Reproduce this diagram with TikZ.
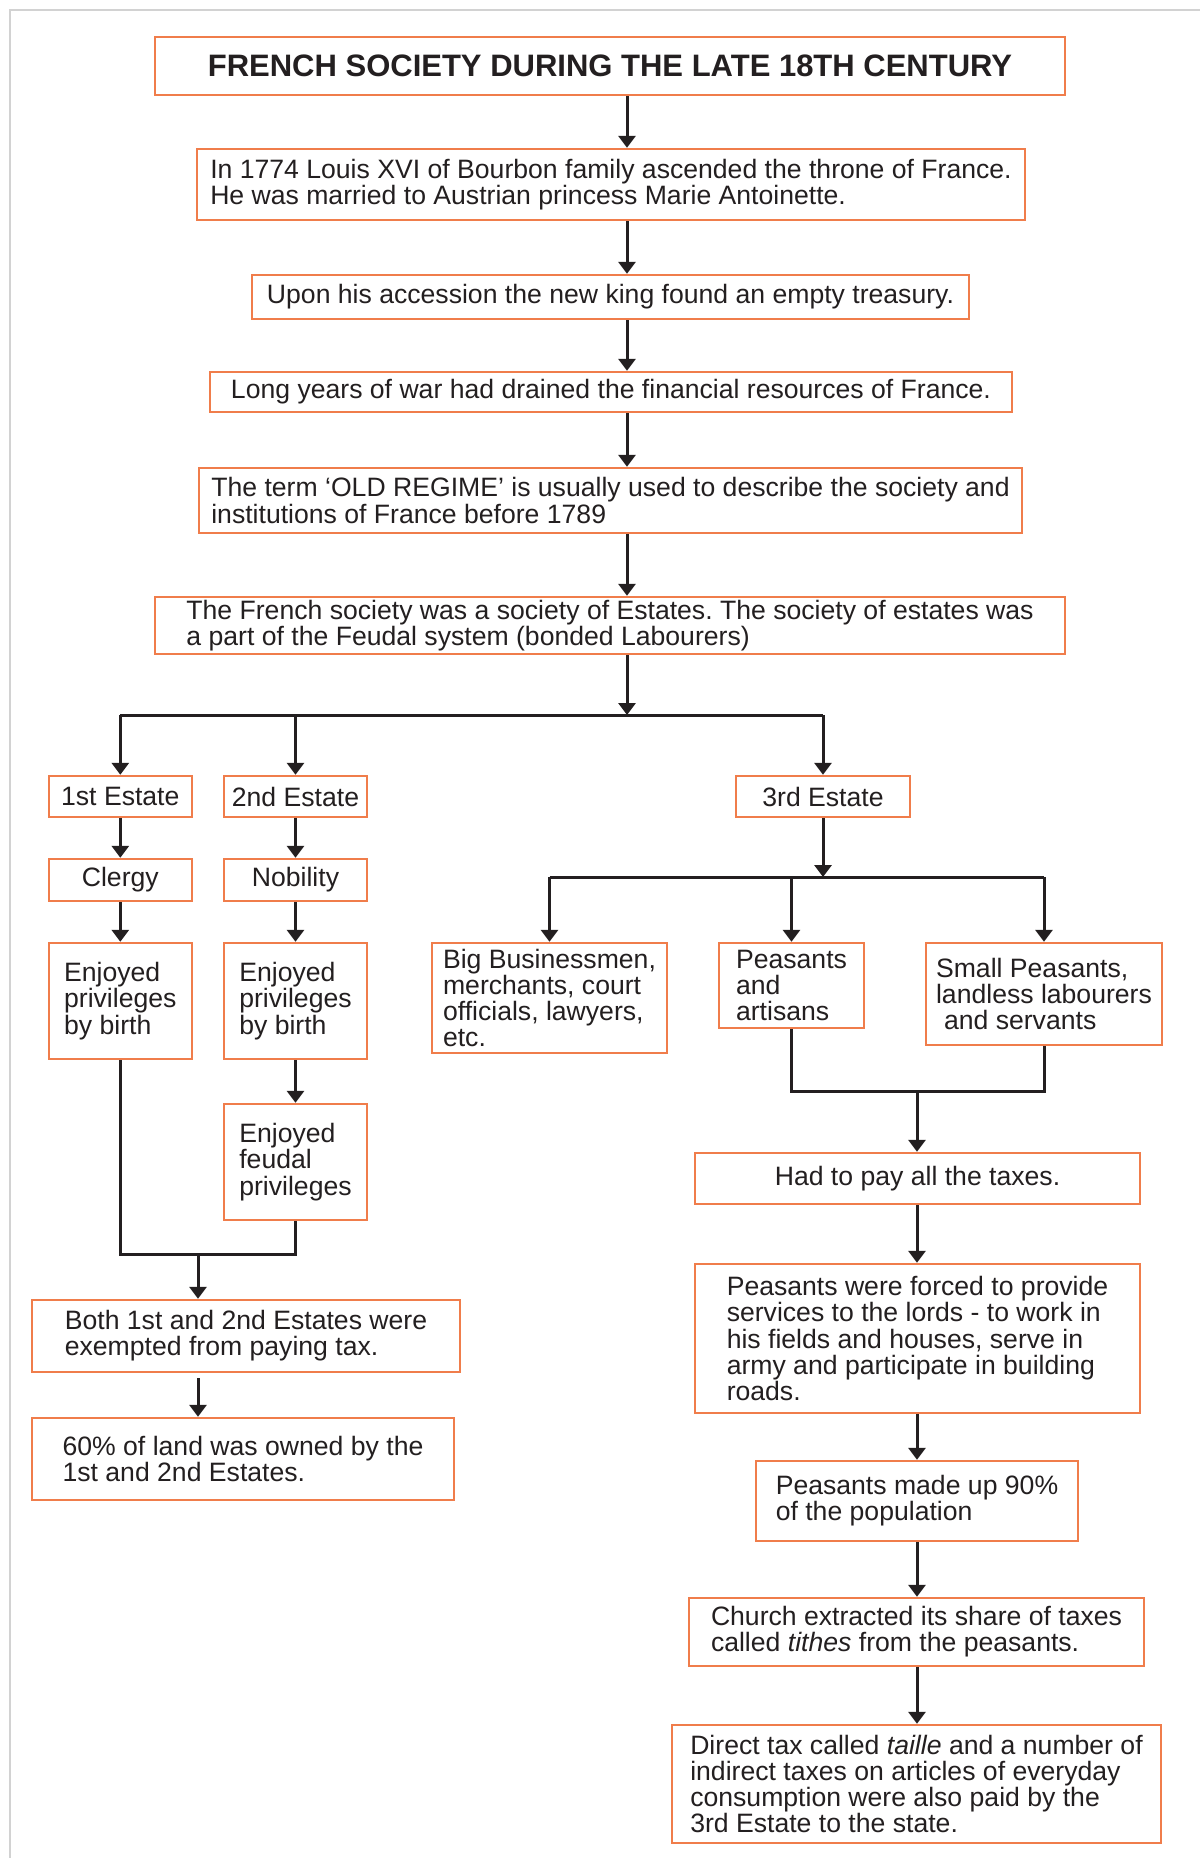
\documentclass[tikz,border=0pt]{standalone}
\usepackage{fontspec}
\setmainfont{Liberation Sans}
\usepackage{xcolor}
\usepackage{tikz}
\usetikzlibrary{arrows.meta,positioning}
\frenchspacing
\definecolor{boxorange}{RGB}{240,125,75}
\definecolor{linedark}{RGB}{35,31,32}
\definecolor{framegray}{RGB}{210,210,210}
\tikzset{
  box/.style={draw=boxorange, line width=1.2pt, fill=white, align=left, inner sep=0pt, text=linedark, font=\fontsize{13.3pt}{13.1pt}\selectfont},
  titlebox/.style={box, align=center, font=\fontsize{15.5pt}{17pt}\selectfont\bfseries},
  arr/.style={draw=linedark, line width=1.5pt, -{Triangle[width=8.5pt,length=6pt]}},
  link/.style={draw=linedark, line width=1.5pt}
}

\begin{document}
\begin{tikzpicture}[x=0.5pt,y=-0.5pt]
\useasboundingbox (0,0) rectangle (1200,1858);
\draw[framegray, line width=1pt] (9.5,1858) -- (9.5,9.5) -- (1200,9.5);

% top column
\node[titlebox, minimum width=455pt, minimum height=29pt] (title) at (610,66) {FRENCH SOCIETY DURING THE LATE 18TH CENTURY};
\node[box, minimum width=414pt, minimum height=35.5pt] (king) at (611,184.5) {In 1774 Louis XVI of Bourbon family ascended the throne of France.\\He was married to Austrian princess Marie Antoinette.};
\node[box, minimum width=358.5pt, minimum height=22pt] (treasury) at (610.5,297) {Upon his accession the new king found an empty treasury.};
\node[box, minimum width=401pt, minimum height=20pt] (war) at (611,392) {Long years of war had drained the financial resources of France.};
\node[box, minimum width=411.5pt, minimum height=32.5pt] (regime) at (610.5,500.5) {The term ‘OLD REGIME’ is usually used to describe the society and\\institutions of France before 1789};
\node[box, minimum width=455pt, minimum height=28.5pt] (estates) at (610,625.5) {The French society was a society of Estates. The society of estates was\\a part of the Feudal system (bonded Labourers)};

% 1st and 2nd estate
\node[box, minimum width=71.5pt, minimum height=20.5pt] (first) at (120.3,796.5) {1st Estate};
\node[box, minimum width=71.5pt, minimum height=20.5pt] (second) at (295.5,796.5) {2nd Estate};
\node[box, minimum width=71.5pt, minimum height=21pt] (clergy) at (120.3,880) {Clergy};
\node[box, minimum width=71.5pt, minimum height=21pt] (nobility) at (295.5,880) {Nobility};
\node[box, minimum width=71.5pt, minimum height=58pt] (privA) at (120.3,1001) {Enjoyed\\privileges\\by birth};
\node[box, minimum width=71.5pt, minimum height=58pt] (privB) at (295.5,1001) {Enjoyed\\privileges\\by birth};
\node[box, minimum width=71.5pt, minimum height=58pt] (feudal) at (295.5,1162) {Enjoyed\\feudal\\privileges};
\node[box, minimum width=214pt, minimum height=36pt] (exempt) at (246,1336) {Both 1st and 2nd Estates were\\exempted from paying tax.};
\node[box, minimum width=211pt, minimum height=41pt] (land) at (243,1459) {60\% of land was owned by the\\1st and 2nd Estates.};

% 3rd estate
\node[box, minimum width=87pt, minimum height=20.5pt] (third) at (823,796.5) {3rd Estate};
\node[box, minimum width=117.5pt, minimum height=55pt] (business) at (549.5,998) {Big Businessmen,\\merchants, court\\officials, lawyers,\\etc.};
\node[box, minimum width=72.5pt, minimum height=42.5pt] (artisans) at (791.5,985.5) {Peasants\\and\\artisans};
\node[box, minimum width=118pt, minimum height=51pt] (small) at (1044,994) {Small Peasants,\\landless labourers\\\hspace*{0.3em}and servants};
\node[box, minimum width=222.5pt, minimum height=25.5pt] (taxes) at (917.5,1178.5) {Had to pay all the taxes.};
\node[box, minimum width=222.5pt, minimum height=74.5pt] (forced) at (917.5,1338.5) {Peasants were forced to provide\\services to the lords - to work in\\his fields and houses, serve in\\army and participate in building\\roads.};
\node[box, minimum width=161pt, minimum height=40pt] (ninety) at (917,1501) {Peasants made up 90\%\\of the population};
\node[box, minimum width=227.5pt, minimum height=34pt] (tithes) at (916.5,1632) {Church extracted its share of taxes\\called \textit{tithes} from the peasants.};
\node[box, minimum width=244.5pt, minimum height=59pt] (taille) at (916.5,1784) {Direct tax called \textit{taille} and a number of\\indirect taxes on articles of everyday\\consumption were also paid by the\\3rd Estate to the state.};

% connectors
\coordinate (spine) at (627,0);
\coordinate (bus) at (0,715);
\coordinate (mergeA) at (198,1254);
\coordinate (busB) at (0,877);
\coordinate (mergeB) at (917,1091);

\draw[arr] (title.south -| spine) -- (king.north -| spine);
\draw[arr] (king.south -| spine) -- (treasury.north -| spine);
\draw[arr] (treasury.south -| spine) -- (war.north -| spine);
\draw[arr] (war.south -| spine) -- (regime.north -| spine);
\draw[arr] (regime.south -| spine) -- (estates.north -| spine);
\draw[arr] (estates.south -| spine) -- (spine |- bus);
\draw[link] (first.north |- bus) -- (third.north |- bus);
\draw[arr] (first.north |- bus) -- (first.north);
\draw[arr] (second.north |- bus) -- (second.north);
\draw[arr] (third.north |- bus) -- (third.north);

\draw[arr] (first) -- (clergy);
\draw[arr] (second) -- (nobility);
\draw[arr] (clergy) -- (privA);
\draw[arr] (nobility) -- (privB);
\draw[arr] (privB) -- (feudal);
\draw[link] (privA.south) |- (feudal.south |- mergeA) -- (feudal.south);
\draw[arr] (mergeA) -- (exempt.north -| mergeA);
\draw[arr] ([yshift=-2.5pt]exempt.south -| mergeA) -- (land.north -| mergeA);

\draw[arr] (third.south) -- (third.south |- busB);
\draw[link] (business.north |- busB) -- (small.north |- busB);
\draw[arr] (business.north |- busB) -- (business.north);
\draw[arr] (artisans.north |- busB) -- (artisans.north);
\draw[arr] (small.north |- busB) -- (small.north);
\draw[link] (artisans.south) |- (small.south |- mergeB) -- (small.south);
\draw[arr] (mergeB) -- (taxes.north -| mergeB);
\draw[arr] (taxes.south -| mergeB) -- (forced.north -| mergeB);
\draw[arr] (forced.south -| mergeB) -- (ninety.north -| mergeB);
\draw[arr] (ninety.south -| mergeB) -- (tithes.north -| mergeB);
\draw[arr] (tithes.south -| mergeB) -- (taille.north -| mergeB);
\end{tikzpicture}
\end{document}
